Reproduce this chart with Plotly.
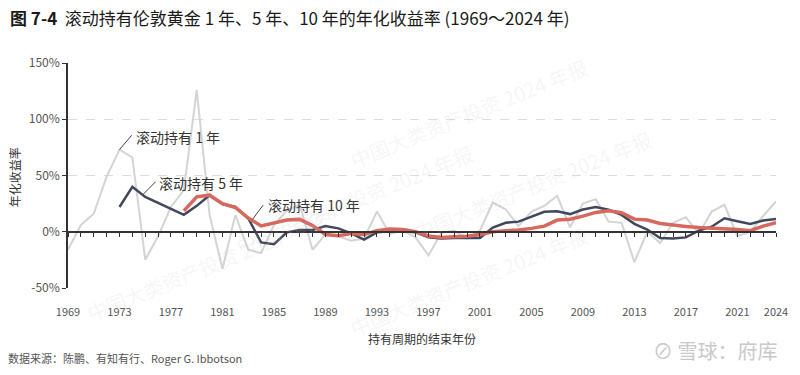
import plotly.graph_objects as go

# ---------------- data ----------------
years = list(range(1969, 2025))

one_year = [-16, 6, 16, 49, 73, 66, -25, -4, 22, 37,
            126, 15, -33, 15, -16, -19, 6, 19, 24, -16,
            -2, -4, -8, -6, 18, -2, 1, -5, -21, -1,
            1, -6, 1, 26, 20, 5, 18, 23, 32, 4,
            25, 29, 9, 8, -27, 0, -10, 8, 13, -2,
            18, 24, -4, 0, 14, 27]

five_years = list(range(1973, 2025))
five_year = [22, 40, 31, 25.5, 20.5, 15, 23, 32.5, 24.5, 22,
             12, -9.5, -11, -0.5, 1.5, 1.5, 5, 3, -1.5, -7,
             -0.5, 0.5, 0.5, -0.5, -5, -6, -5.5, -5.5, -5.5, 3.8,
             8, 9, 13.3, 17.8, 18.3, 15.7, 19.8, 22, 19.5, 15,
             7, 2, -5.5, -6, -5, 1, 4.5, 12, 9.3, 7,
             10, 11.3]

ten_years = list(range(1978, 2025))
ten_year = [18.6, 31, 32.5, 25, 21.6, 12.2, 5.2, 8, 10.4, 11,
            5.5, -2.4, -3.5, -1.5, -2.5, 1, 2.5, 2, 0, -3.8,
            -5, -4.4, -4, -2.4, 0, 1, 1.5, 3, 5, 10.4,
            11.2, 13.9, 17.2, 18.6, 16.9, 11.2, 10.4, 7.4, 5.9, 4.7,
            3.8, 3.3, 2.7, 2, 0.9, 5, 8]

x_tick_years = [1969, 1973, 1977, 1981, 1985, 1989, 1993, 1997,
                2001, 2005, 2009, 2013, 2017, 2021, 2024]
y_ticks = [-50, 0, 50, 100, 150]

series_names = ["滚动持有 1 年", "滚动持有 5 年", "滚动持有 10 年"]

FONT = "Noto Sans CJK SC"

# plot area in pixels (for placing paper-referenced text)
L, R, T, B = 68, 779, 63, 288
W, H = R - L, B - T


def px(x):
    return (x - L) / W


def py(y):
    return (B - y) / H


fig = go.Figure()
fig.add_trace(go.Scatter(x=years, y=one_year, mode="lines", name=series_names[0],
                         line=dict(color="#d4d4d4", width=2), xaxis="x", yaxis="y"))
fig.add_trace(go.Scatter(x=five_years, y=five_year, mode="lines", name=series_names[1],
                         line=dict(color="#41485b", width=2.5), xaxis="x", yaxis="y"))
fig.add_trace(go.Scatter(x=ten_years, y=ten_year, mode="lines", name=series_names[2],
                         line=dict(color="#d6685e", width=3.5), xaxis="x2", yaxis="y"))

xr = [1969, 2024]
fig.update_layout(
    width=800, height=375,
    margin=dict(l=L, r=800 - R, t=T, b=375 - B),
    paper_bgcolor="white", plot_bgcolor="white",
    showlegend=False,
    font=dict(family=FONT, color="#444"),
    xaxis=dict(range=xr, tickmode="array", tickvals=x_tick_years,
               ticktext=[str(v) for v in x_tick_years],
               showgrid=False, zeroline=False, showline=False,
               ticks="outside", ticklen=14, tickcolor="rgba(0,0,0,0)",
               tickfont=dict(size=11, color="#555", family=FONT)),
    xaxis2=dict(range=xr, overlaying="x", anchor="free", position=0.25,
                tickmode="linear", tick0=1969, dtick=1,
                ticks="outside", ticklen=4, tickwidth=1, tickcolor="#333",
                showticklabels=False, showgrid=False, zeroline=False,
                showline=True, linecolor="#333", linewidth=1.5),
    yaxis=dict(range=[-50, 150], tickmode="array", tickvals=y_ticks,
               ticktext=[f"{v}%" for v in y_ticks],
               showgrid=True, gridcolor="#dddddd", griddash="dash", gridwidth=1,
               zeroline=False, showline=True, linecolor="#333", linewidth=1.5,
               ticks="outside", ticklen=4, tickcolor="#333",
               tickfont=dict(size=12, color="#555", family=FONT)),
)

# leader lines (from a point on each series to its label)
leaders = [
    (1973, 73, 1973.95, 85.8),
    (1974.8, 32.8, 1975.8, 44.4),
    (1983.33, 11, 1984.16, 23.7),
]
for x0, y0, x1, y1 in leaders:
    fig.add_shape(type="line", xref="x", yref="y", x0=x0, y0=y0, x1=x1, y1=y1,
                  line=dict(color="#444", width=1))

label_pos = [(1974.15, 84), (1975.95, 43.5), (1984.4, 23.4)]
for (lx, ly), name in zip(label_pos, series_names):
    fig.add_annotation(x=lx, y=ly, xref="x", yref="y", text=name, showarrow=False,
                       xanchor="left", yanchor="middle",
                       font=dict(size=14, color="#333", family=FONT))

# watermarks (faint)
wm = "中国大类资产投资 2024 年报"
for wx, wy in [(470, 50), (230, 200), (660, 185), (80, 330), (470, 345)]:
    fig.add_annotation(x=px(wx), y=py(wy), xref="paper", yref="paper",
                       text=wm, showarrow=False, textangle=-22,
                       font=dict(size=20, color="rgba(190,190,190,0.15)", family=FONT))

# title
fig.add_annotation(x=px(8), y=py(17), xref="paper", yref="paper",
                   text="<b>图 7-4</b>  滚动持有伦敦黄金 1 年、5 年、10 年的年化收益率 (1969～2024 年)",
                   showarrow=False, xanchor="left", yanchor="middle",
                   font=dict(size=17, color="#1a1a1a", family=FONT))
# y axis title
fig.add_annotation(x=px(14), y=py(177), xref="paper", yref="paper",
                   text="年化收益率", showarrow=False, textangle=-90,
                   xanchor="center", yanchor="middle",
                   font=dict(size=12, color="#333", family=FONT))
# x axis title
fig.add_annotation(x=0.5, y=py(338), xref="paper", yref="paper",
                   text="持有周期的结束年份", showarrow=False,
                   xanchor="center", yanchor="middle",
                   font=dict(size=12, color="#333", family=FONT))
# source
fig.add_annotation(x=px(6), y=py(358), xref="paper", yref="paper",
                   text="数据来源：陈鹏、有知有行、Roger G. Ibbotson", showarrow=False,
                   xanchor="left", yanchor="middle",
                   font=dict(size=11, color="#555", family=FONT))
# logo text
fig.add_annotation(x=px(782), y=py(350), xref="paper", yref="paper",
                   text="⊘ 雪球：府库", showarrow=False,
                   xanchor="right", yanchor="middle",
                   font=dict(size=20, color="#c9c9c9", family=FONT))

fig.write_html("out.html", config={"displayModeBar": False},
               post_script="document.body.style.margin='0';")
